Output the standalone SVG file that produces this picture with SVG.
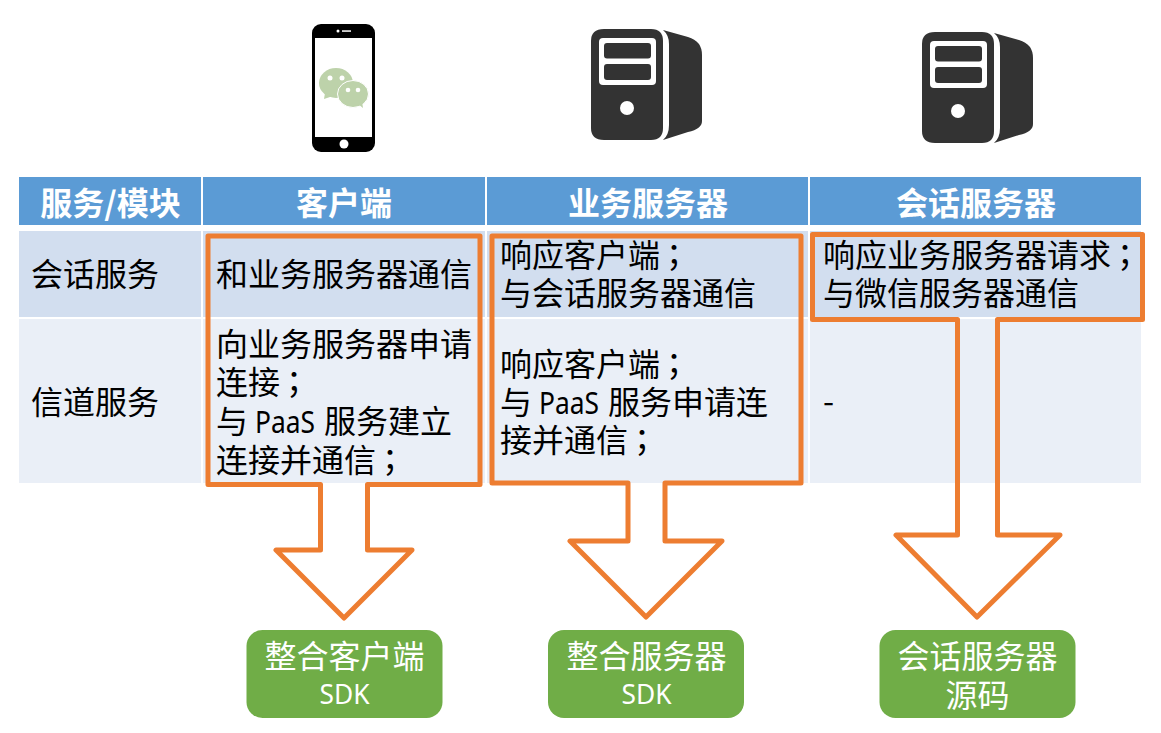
<svg xmlns="http://www.w3.org/2000/svg" width="1161" height="733" viewBox="0 0 1161 733">
<style>
text{font-family:"Noto Sans CJK SC","Noto Sans",sans-serif;font-size:32px;fill:#000}
.lat{font-family:"Noto Sans",sans-serif;font-size:30px}
.sc{font-family:"Noto Sans CJK TC",sans-serif}
.h{fill:#5B9BD5}.r1{fill:#D2DEEF}.r2{fill:#EAEFF7}
.ht{fill:#fff;font-weight:700;text-anchor:middle}
.gt{fill:#fff;text-anchor:middle}
.sdk{font-size:27px;font-family:"Noto Sans",sans-serif}
.g{fill:#70AD47}
.o{fill:none;stroke:#ED7D31;stroke-width:5;stroke-linejoin:round}
.sv{fill:#333}
</style>
<defs>
<g id="server">
<path class="sv" d="M13 0H60Q72 0 72 12V99Q72 111 60 111H13Q0 111 0 99V12Q0 0 13 0Z"/>
<rect x="8" y="9" width="57" height="47" rx="4" fill="#fff"/>
<rect x="13" y="14" width="47" height="15.500" rx="3" class="sv"/>
<rect x="13" y="35" width="47" height="16" rx="3" class="sv"/>
<circle cx="36" cy="79" r="7" fill="#fff"/>
<path class="sv" d="M72 1L97 8Q111 12 111 26V92Q111 100 97 103L72 111Q78 106 78 96V15Q78 6 72 1Z"/>
</g>
</defs>
<g id="phone">
<rect x="312" y="24" width="63" height="128" rx="9" fill="#000"/>
<rect x="315" y="38" width="57" height="99" fill="#fff"/>
<circle cx="338" cy="31" r="1.500" fill="#fff"/>
<rect x="342" y="30.300" width="9" height="1.500" fill="#fff"/>
<circle cx="344" cy="144" r="4.500" fill="#fff"/>
<ellipse cx="336" cy="83" rx="17" ry="15" fill="#BDD2AA"/>
<path d="M325 93L324 99L333 96Z" fill="#BDD2AA"/>
<ellipse cx="353" cy="94" rx="15.500" ry="13.500" fill="#BDD2AA" stroke="#fff"/>
<path d="M358 104L363 108L362 101Z" fill="#BDD2AA"/>
<circle cx="330" cy="78" r="2.500" fill="#fff"/><circle cx="342" cy="78" r="2.500" fill="#fff"/>
<circle cx="348" cy="90" r="2.300" fill="#fff"/><circle cx="358" cy="90" r="2.300" fill="#fff"/>
</g>
<use id="server-business" href="#server" x="591" y="29"/>
<use id="server-session" href="#server" x="922" y="32"/>
<g id="table">
<rect class="h" x="19" y="177" width="182" height="48"/>
<rect class="h" x="203" y="177" width="282" height="48"/>
<rect class="h" x="487" y="177" width="321" height="48"/>
<rect class="h" x="810" y="177" width="331" height="48"/>
<rect class="r1" x="19" y="231" width="182" height="86"/>
<rect class="r1" x="203" y="231" width="282" height="86"/>
<rect class="r1" x="487" y="231" width="321" height="86"/>
<rect class="r1" x="810" y="231" width="331" height="86"/>
<rect class="r2" x="19" y="319" width="182" height="164"/>
<rect class="r2" x="203" y="319" width="282" height="164"/>
<rect class="r2" x="487" y="319" width="321" height="164"/>
<rect class="r2" x="810" y="319" width="331" height="164"/>
<text class="ht" x="110.500" y="215">服务/模块</text>
<text class="ht" x="344" y="215">客户端</text>
<text class="ht" x="648" y="215">业务服务器</text>
<text class="ht" x="976" y="215">会话服务器</text>
<text x="31" y="286">会话服务</text>
<text x="31" y="414">信道服务</text>
<text x="216" y="286">和业务服务器通信</text>
<text x="216" y="356">向业务服务器申请</text>
<text x="216" y="394">连接<tspan class="sc" dx="-2">；</tspan></text>
<text x="216" y="433">与<tspan class="lat" x="255" textLength="60" lengthAdjust="spacingAndGlyphs">PaaS</tspan><tspan x="324">服务建立</tspan></text>
<text x="216" y="472">连接并通信<tspan class="sc" dx="-2">；</tspan></text>
<text x="500" y="267">响应客户端<tspan class="sc" dx="-2">；</tspan></text>
<text x="500" y="305">与会话服务器通信</text>
<text x="500" y="376">响应客户端<tspan class="sc" dx="-2">；</tspan></text>
<text x="500" y="414">与<tspan class="lat" x="539" textLength="60" lengthAdjust="spacingAndGlyphs">PaaS</tspan><tspan x="608">服务申请连</tspan></text>
<text x="500" y="452">接并通信<tspan class="sc" dx="-2">；</tspan></text>
<text x="823" y="267">响应业务服务器请求<tspan class="sc" dx="-2">；</tspan></text>
<text x="823" y="305">与微信服务器通信</text>
<text x="823" y="413">-</text>
</g>
<g id="connectors">
<path class="o" d="M208 236H480V484.500H367.500V550H412L344 618L276 550H320.500V484.500H208Z"/>
<path class="o" d="M492 236H801V483H665V541H722L646 617L570 541H628V483H492Z"/>
<path class="o" d="M812.500 234.500H1142.500V319.500H997.500V535H1060L977 617L896 535H957.500V319.500H812.500Z"/>
</g>
<g id="result-client">
<rect class="g" x="246.500" y="630" width="196" height="88" rx="16"/>
<text class="gt" x="344.500" y="668">整合客户端</text>
<text class="gt sdk" x="344.500" y="704" textLength="50" lengthAdjust="spacingAndGlyphs">SDK</text>
</g>
<g id="result-server">
<rect class="g" x="548" y="630" width="196" height="88" rx="16"/>
<text class="gt" x="646.500" y="668">整合服务器</text>
<text class="gt sdk" x="646.500" y="704" textLength="50" lengthAdjust="spacingAndGlyphs">SDK</text>
</g>
<g id="result-session">
<rect class="g" x="879.500" y="630" width="196" height="88" rx="16"/>
<text class="gt" x="977.500" y="668">会话服务器</text>
<text class="gt" x="977.500" y="707">源码</text>
</g>
</svg>
